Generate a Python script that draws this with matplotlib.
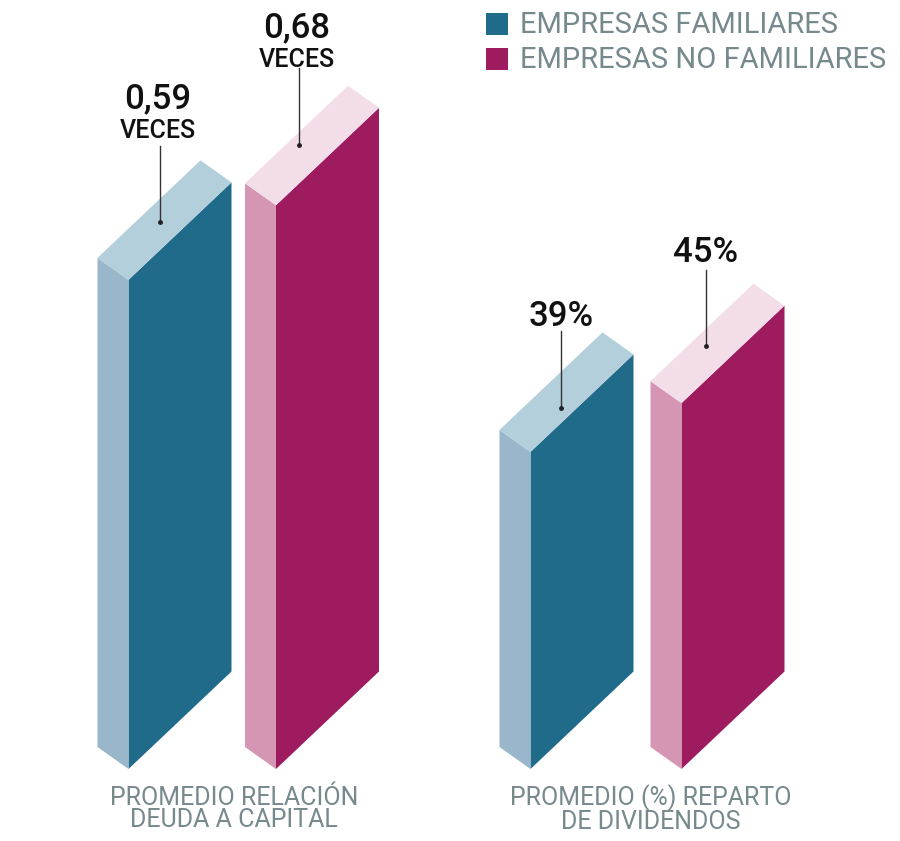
import matplotlib
matplotlib.use('Agg')
import matplotlib.pyplot as plt
from matplotlib.patches import Polygon, Rectangle

# Datos
series = ['EMPRESAS FAMILIARES', 'EMPRESAS NO FAMILIARES']
deuda_valores = [0.59, 0.68]
deuda_textos = ['0,59', '0,68']
dividendos_valores = [39, 45]
dividendos_textos = ['39%', '45%']
grupo_deuda = 'PROMEDIO RELACIÓN\nDEUDA A CAPITAL'
grupo_dividendos = 'PROMEDIO (%) REPARTO\nDE DIVIDENDOS'

# Colores: frente, lado, tapa
azul = ('#206a8a', '#99b6cb', '#b3cfdc')
magenta = ('#9e1b60', '#d596b4', '#f3dde8')
gris = '#76898d'
negro = '#111111'
fuente = ['Roboto', 'DejaVu Sans']

# Escala de cada grupo (px por unidad) y geometria en px
base = 769
esc_deuda = 829
esc_div = 8.13
lado = 31
ancho = 103
subida = 97.5
caida = 22

fig = plt.figure(figsize=(9, 8.41), dpi=100)
ax = fig.add_axes([0, 0, 1, 1])
ax.set_xlim(0, 900)
ax.set_ylim(841, 0)
ax.axis('off')


def barra(x, alto, colores):
    # x es el borde izquierdo del lado
    xf = x + lado
    top = base - alto
    ax.add_patch(Polygon([(xf, base), (xf, top), (xf + ancho, top - subida), (xf + ancho, base - subida)],
                         fc=colores[0], ec='none'))
    ax.add_patch(Polygon([(x, base - caida), (x, top - caida), (xf, top), (xf, base)],
                         fc=colores[1], ec='none'))
    ax.add_patch(Polygon([(x, top - caida), (xf, top), (xf + ancho, top - subida), (x + ancho, top - subida - caida)],
                         fc=colores[2], ec='none'))
    return top


def guia(x, top, sube, largo):
    y = top - sube
    ax.plot([x, x], [y, y - largo], color='#333333', lw=1)
    ax.plot([x], [y], 'o', color='#222222', ms=2.5)


def valor(x, y, texto, size=25):
    ax.text(x, y, texto, fontsize=size, fontweight='medium', family=fuente, ha='center', va='center', color=negro)


top1 = barra(97.5, deuda_valores[0] * esc_deuda, azul)
top2 = barra(245, deuda_valores[1] * esc_deuda, magenta)
top3 = barra(499.5, dividendos_valores[0] * esc_div, azul)
top4 = barra(650.5, dividendos_valores[1] * esc_div, magenta)

guia(160, top1, 58, 76)
guia(299, top2, 60, 77)
guia(561, top3, 44, 77)
guia(706, top4, 57, 76)

# Valores
valor(158, 99, deuda_textos[0])
valor(158, 131, 'VECES', 18)
valor(297, 28, deuda_textos[1])
valor(297, 60, 'VECES', 18)
valor(561, 317, dividendos_textos[0])
valor(706, 252, dividendos_textos[1])

# Leyenda
ax.add_patch(Rectangle((486, 13), 22, 22, fc=azul[0], ec='none'))
ax.add_patch(Rectangle((486, 48), 22, 22, fc=magenta[0], ec='none'))
ax.text(520, 25, series[0], fontsize=21, family=fuente, ha='left', va='center', color=gris)
ax.text(520, 60, series[1], fontsize=21, family=fuente, ha='left', va='center', color=gris)

# Nombres de grupo
ax.text(234, 809, grupo_deuda, fontsize=18, family=fuente, ha='center', va='center', color=gris, linespacing=0.92)
ax.text(651, 809, grupo_dividendos, fontsize=18, family=fuente, ha='center', va='center', color=gris, linespacing=0.92)

fig.savefig('out.png', dpi=100)
